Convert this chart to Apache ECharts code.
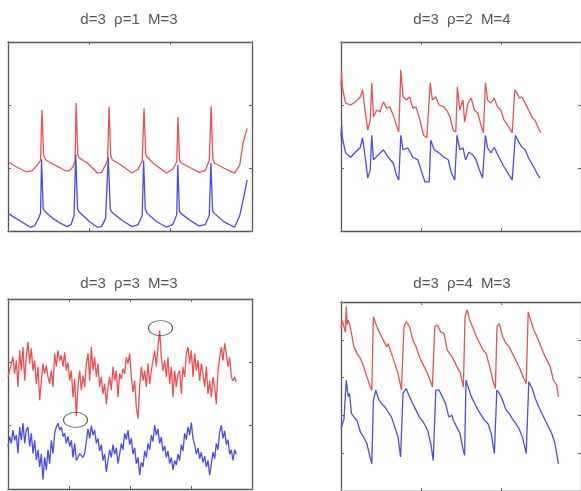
<!DOCTYPE html>
<html><head><meta charset="utf-8">
<script src="https://cdn.jsdelivr.net/npm/echarts/dist/echarts.min.js"></script>
<style>html,body{margin:0;padding:0;background:#fff}#c{width:581px;height:491px}</style>
</head><body><div id="c"></div>
<script>
const titles = ['d=3  ρ=1  M=3', 'd=3  ρ=2  M=4', 'd=3  ρ=3  M=3', 'd=3  ρ=4  M=3'];

const red1 = [[0,1.10],[4,1.02],[9,0.94],[12,0.96],[14.5,1.05],[16,1.12],[16.7,1.92],[17.5,1.20],[18.5,1.13],[21,1.08],[24,1.03],[28,0.96],[30,0.95],[32,1.02],[33,1.12],[33.5,2.03],[34.3,1.22],[35,1.16],[39,1.08],[44,0.92],[46,0.93],[48,1.05],[49,1.14],[49.7,1.97],[50.5,1.2],[51.3,1.13],[55,1.06],[61,0.92],[64,0.98],[66,1.12],[66.9,1.95],[67.7,1.22],[68.5,1.17],[72,1.06],[78,0.92],[81,0.98],[83,1.10],[83.6,1.81],[84.4,1.12],[85.2,1.08],[90,1.00],[94,0.93],[97,0.96],[99,1.12],[99.9,1.98],[100.7,1.15],[101.5,1.08],[106,1.00],[111.5,0.92],[114,1.05],[115.6,1.40],[117.6,1.63]];
const blue1 = [[0,0.28],[5,0.18],[11,0.06],[13,0.08],[15,0.2],[16,0.28],[16.5,1.14],[17.3,0.35],[18.5,0.3],[22,0.2],[26,0.12],[29,0.07],[31,0.1],[32.5,0.25],[33.3,1.22],[34.2,0.35],[35,0.3],[40,0.15],[44,0.06],[46,0.07],[48,0.2],[49.3,1.17],[50.3,0.35],[51,0.3],[56,0.17],[61,0.07],[64,0.1],[66,0.25],[66.7,1.12],[67.5,0.35],[68.5,0.28],[73,0.15],[78,0.06],[81,0.1],[83,0.26],[83.5,1.05],[84.3,0.32],[85,0.28],[90,0.16],[94,0.08],[97,0.1],[99,0.25],[99.8,1.08],[100.6,0.32],[101.5,0.28],[106,0.15],[111.5,0.06],[114,0.25],[116,0.55],[117.6,0.81]];

const red2 = [[0,2.3],[0.3,2.52],[0.7,2.27],[2.3,2.03],[4.8,2.0],[7.2,2.05],[9.7,2.13],[10.8,2.24],[11.8,1.97],[13.4,1.60],[14.6,1.76],[15.4,2.35],[16.2,1.81],[17.9,1.92],[19.5,1.89],[21.2,2.05],[22.8,1.95],[24.4,1.97],[26.1,1.84],[27.7,1.68],[28.9,1.57],[29.9,2.56],[31,2.13],[32.6,2.08],[34.3,2.13],[35.9,1.95],[37.5,1.97],[39.2,1.79],[41.3,1.52],[42.9,1.48],[44.6,2.35],[45.7,2.08],[47.4,2.13],[49,2.0],[51.5,1.97],[52.8,1.92],[54.5,1.81],[56.1,1.60],[57.4,1.57],[58.2,2.29],[59.4,1.92],[61,2.08],[61.8,1.73],[63.5,2.03],[65.1,2.11],[66.7,1.92],[68.4,1.87],[70,1.68],[71.2,1.56],[72.2,2.35],[73.3,2.08],[74.9,2.03],[76.6,2.11],[78.2,1.97],[79.9,1.92],[81.5,1.76],[84,1.65],[85.6,1.56],[86.9,2.24],[88,2.19],[89.2,2.11],[90.5,2.13],[92.1,2.03],[93.8,1.92],[95.4,1.81],[97,1.76],[98.7,1.63],[100,1.56]];
const blue2 = [[0,1.5],[0.3,1.68],[0.7,1.48],[2.3,1.24],[4.8,1.17],[7.2,1.25],[9.7,1.33],[10.8,1.48],[12.1,1.17],[13.4,0.84],[14.6,0.97],[15.4,1.52],[16.2,1.13],[18.7,1.21],[21.2,1.29],[23.6,1.17],[26.1,1.08],[27.7,0.89],[28.9,0.81],[29.9,1.52],[31,1.29],[33.4,1.32],[35.9,1.17],[38.4,1.13],[40,0.97],[42,0.78],[44.1,0.78],[44.9,1.44],[46.6,1.29],[49,1.24],[51.5,1.17],[53.6,1.13],[55.2,0.92],[56.9,0.81],[58,1.52],[59.4,1.29],[61,1.32],[62.3,1.13],[63.9,1.25],[65.9,1.21],[67.5,1.13],[69.2,0.97],[70.8,0.84],[72.2,1.52],[73.3,1.32],[74.9,1.24],[76.6,1.33],[79,1.17],[81.5,1.02],[84,0.89],[85.6,0.81],[87.2,1.52],[88.9,1.41],[90.5,1.33],[92.1,1.29],[93.8,1.16],[96.3,1.02],[97.9,0.92],[99.5,0.84]];

const red3 = [1.77,1.87,1.98,2.08,1.82,2.03,1.61,2.19,1.87,2.24,1.71,2.08,2.32,1.98,2.22,1.87,2.03,1.66,1.93,1.40,1.71,1.98,1.82,1.95,1.77,1.66,1.87,1.61,2.14,1.93,2.19,2.03,2.11,1.93,2.16,1.87,2.0,1.71,1.87,1.45,1.74,1.15,1.61,1.87,1.56,1.79,1.61,
1.98,2.14,1.71,2.24,1.87,2.08,1.77,1.98,1.61,1.77,1.50,1.66,1.34,1.61,1.77,1.56,1.93,1.71,1.87,1.45,1.82,1.74,1.90,1.82,2.08,1.98,2.14,1.77,1.53,1.71,1.29,1.11,1.61,1.93,1.71,1.87,1.61,1.98,1.66,1.87,2.03,2.19,1.93,2.24,2.50,2.08,1.87,2.03,
1.77,2.08,1.66,1.93,1.45,1.87,1.61,1.82,1.87,1.50,1.93,1.77,2.14,2.24,1.98,2.19,1.77,2.14,1.87,2.03,1.71,1.98,1.82,1.61,1.93,1.50,1.71,1.45,1.77,1.61,1.34,1.87,2.08,2.24,2.03,2.30,2.14,1.93,2.08,1.77,1.71,1.77,1.69];
const blue3 = [0.67,0.83,0.72,0.93,0.77,0.85,0.56,0.98,0.77,1.04,0.72,0.93,0.98,0.67,0.88,0.56,0.77,0.46,0.62,0.35,0.55,0.15,0.5,0.3,0.62,0.40,0.77,0.56,0.88,0.98,1.04,0.93,0.98,0.83,0.88,0.72,0.83,0.67,0.77,0.50,0.72,0.45,0.50,0.56,0.55,0.50,0.56,
0.75,0.95,0.80,1.00,0.85,0.93,0.72,0.80,0.60,0.70,0.45,0.55,0.27,0.45,0.62,0.50,0.70,0.55,0.65,0.40,0.55,0.72,0.62,0.88,0.78,0.93,0.70,0.80,0.55,0.65,0.40,0.50,0.22,0.42,0.35,0.60,0.50,0.72,0.62,0.85,0.75,1.01,0.85,0.95,0.72,0.82,0.60,0.68,
0.50,0.60,0.40,0.50,0.30,0.45,0.38,0.55,0.45,0.70,0.60,0.88,0.78,0.98,0.85,1.05,0.80,0.70,0.55,0.65,0.48,0.58,0.42,0.52,0.35,0.45,0.22,0.40,0.58,0.48,0.72,0.62,0.90,1.01,0.80,0.92,0.70,0.78,0.55,0.62,0.45,0.62,0.55];
const circles3 = [[40.5,1.09],[91.5,2.54]];

const red4 = [[0,4.3],[0.66,4.5],[1.48,4.52],[2.2,4.2],[2.62,4.88],[3.1,4.4],[3.6,4.52],[4.26,4.43],[5.25,4.17],[6.4,3.82],[8.0,3.64],[9.7,3.51],[11.3,3.29],[12.95,3.02],[14.6,2.75],[15.4,2.67],[16.2,4.61],[16.7,4.66],[17.9,4.35],[19.5,4.17],[21.1,3.99],[22.8,3.82],[23.6,3.90],[25.2,3.64],[26.9,3.37],[28.5,3.11],[30.2,2.67],[31.5,4.35],[32.6,4.48],[34.3,4.35],[35.9,3.99],[37.5,3.82],[39.2,3.55],[40.8,3.37],[43.3,3.11],[45.7,2.75],[46.9,4.35],[48.2,4.39],[49.8,4.21],[51.5,4.17],[53.1,3.73],[55.6,3.55],[57.9,3.29],[59.5,3.15],[61.2,2.75],[62,4.61],[63.1,4.79],[64.4,4.52],[66.1,4.30],[67.7,4.08],[69.4,3.90],[71,3.73],[72.6,3.64],[74.3,3.29],[75.9,2.93],[77.2,2.71],[78,4.35],[79.2,4.43],[80.8,4.08],[82.5,3.90],[84.1,3.82],[85.7,3.64],[87.4,3.46],[89,3.29],[90.7,3.06],[92.6,2.84],[93.6,4.74],[94.8,4.52],[96.4,4.26],[98,4.08],[99.7,3.86],[101.3,3.64],[103,3.46],[104.6,3.29],[106.2,2.93],[107.9,2.80],[108.7,2.49]];
const blue4 = [[0,1.65],[0.66,1.7],[1.48,1.9],[2.62,2.93],[3.6,2.5],[4.26,2.58],[5.25,2.05],[6.4,1.96],[8.0,1.87],[9.7,1.56],[11.3,1.43],[12.95,1.25],[14.1,0.99],[15.4,0.72],[16.2,2.40],[17.4,2.67],[18.7,2.44],[20.3,2.31],[22,2.22],[23.6,2.09],[25.2,1.96],[26.9,1.69],[28.5,1.43],[29.8,0.90],[31,2.58],[32.6,2.71],[34.3,2.49],[35.9,2.31],[37.5,2.14],[39.2,1.96],[41.6,1.78],[43.3,1.61],[44.9,1.25],[46.1,0.81],[47.4,2.67],[49,2.67],[50.7,2.49],[52.3,2.31],[53.9,1.96],[55.5,2.0],[56.2,1.87],[57.9,1.69],[59.5,1.52],[60.8,1.16],[61.8,0.94],[62.5,2.93],[63.6,2.75],[65.2,2.49],[66.9,2.31],[68.5,2.14],[70.2,2.0],[71.8,1.87],[73.5,1.78],[75.1,1.52],[76.7,0.99],[77.9,2.67],[79.2,2.58],[80.8,2.40],[82.5,2.14],[84.1,2.05],[85.7,1.91],[87.4,1.78],[89,1.65],[90.7,1.43],[92.6,0.99],[93.9,2.89],[95.6,2.71],[97.2,2.44],[98.9,2.22],[100.5,2.05],[102.1,1.87],[103.8,1.69],[105.4,1.52],[107,1.25],[108.7,0.72]];

const RED = '#ee5050', BLUE = '#4a4aee';
const grids = [
  {left: 8, top: 42, width: 244, height: 189},
  {left: 341, top: 42, width: 244, height: 189},
  {left: 8, top: 299, width: 244, height: 190},
  {left: 341, top: 302, width: 244, height: 189}
];
const xCfg = [{max: 120, interval: 40}, {max: 120, interval: 40}, {max: 146.4, interval: 36.6}, {max: 120, interval: 40}];
const yCfg = [{max: 3, interval: 1}, {max: 3, interval: 1}, {max: 3, interval: 1}, {max: 5, interval: 1}];
const titlePos = [[129, 12], [462, 12], [129, 276], [462, 276]];

function axis(gi, cfg, pos) {
  return {
    type: 'value', gridIndex: gi, position: pos, min: 0, max: cfg.max, interval: cfg.interval,
    axisLine: {show: true, onZero: false, lineStyle: {color: '#555', width: 1.3}},
    axisLabel: {show: false}, splitLine: {show: false},
    axisTick: {show: true, inside: true, length: 3, lineStyle: {color: '#666', width: 1}}
  };
}
const xAxes = [], yAxes = [];
grids.forEach((g, i) => {
  xAxes.push(axis(i, xCfg[i], 'bottom'), axis(i, xCfg[i], 'top'));
  yAxes.push(axis(i, yCfg[i], 'left'), axis(i, yCfg[i], 'right'));
});
function line(data, color, i) {
  return {type: 'line', data, xAxisIndex: 2 * i, yAxisIndex: 2 * i, showSymbol: false, symbol: 'none',
    lineStyle: {color, width: 1.3}, itemStyle: {color}, animation: false, silent: true};
}
const seriesList = [
  line(red1, RED, 0), line(blue1, BLUE, 0),
  line(red2, RED, 1), line(blue2, BLUE, 1),
  line(red3.map((v, i) => [i, v]), RED, 2), line(blue3.map((v, i) => [i, v]), BLUE, 2),
  line(red4, RED, 3), line(blue4, BLUE, 3),
  {type: 'scatter', data: circles3, xAxisIndex: 4, yAxisIndex: 4, symbol: 'circle', symbolSize: [24, 15], z: 5,
    itemStyle: {color: 'rgba(0,0,0,0)', borderColor: '#333', borderWidth: 1}, silent: true, animation: false}
];
const chart = echarts.init(document.getElementById('c'));
chart.setOption({
  animation: false,
  backgroundColor: '#fff',
  title: titles.map((t, i) => ({text: t, left: titlePos[i][0], top: titlePos[i][1], textAlign: 'center', padding: 0,
    textStyle: {fontSize: 15, fontWeight: 'normal', color: '#555', fontFamily: 'Liberation Sans, Arial, sans-serif'}})),
  grid: grids.map(g => Object.assign({show: false}, g)),
  xAxis: xAxes,
  yAxis: yAxes,
  series: seriesList
});
</script></body></html>
